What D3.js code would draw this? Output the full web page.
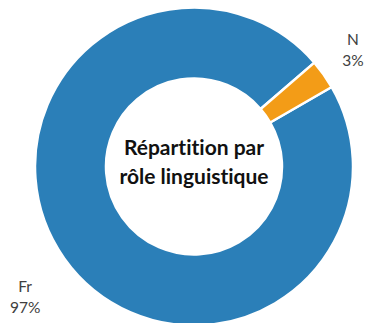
<!DOCTYPE html>
<html>
<head>
<meta charset="utf-8">
<script src="https://cdn.jsdelivr.net/npm/d3@7"></script>
<style>
  html, body { margin: 0; padding: 0; background: #fff; }
  svg { display: block; }
  text { font-family: Lato, "Open Sans", sans-serif; font-variant-ligatures: none; }
</style>
</head>
<body>
<svg id="chart" width="367" height="323"></svg>
<script>
// Share of each linguistic role
const categories = ["Fr", "N"];
const values = [97, 3];
const labels = ["97%", "3%"];
const colors = ["#2b7fb8", "#f39c17"];
const titleLines = ["Répartition par", "rôle linguistique"];

const width = 367, height = 323;
const cx = 194, cy = 166.5;
const outerR = 159, innerR = 88, labelR = 190;
// small nudges so each label box sits clear of the ring
const labelNudge = { Fr: [-14, 20], N: [4, -6] };

const svg = d3.select("#chart");
const g = svg.append("g").attr("transform", `translate(${cx},${cy})`);

const start = 60 * Math.PI / 180;
const pie = d3.pie().sort(null).startAngle(start).endAngle(start + 2 * Math.PI);
const arcs = pie(values);

const arc = d3.arc().innerRadius(innerR).outerRadius(outerR);
const labelArc = d3.arc().innerRadius(labelR).outerRadius(labelR);

g.selectAll("path.slice")
  .data(arcs)
  .join("path")
  .attr("class", "slice")
  .attr("d", arc)
  .attr("fill", (d, i) => colors[i])
  .attr("stroke", "#fff")
  .attr("stroke-width", 2.5)
  .attr("stroke-linejoin", "round");

// Category and percentage labels outside the ring
const lab = g.selectAll("g.label")
  .data(arcs)
  .join("g")
  .attr("class", "label")
  .attr("transform", (d, i) => {
    const [x, y] = labelArc.centroid(d);
    const [nx, ny] = labelNudge[categories[i]];
    return `translate(${x + nx},${y + ny})`;
  });

lab.append("text")
  .attr("text-anchor", "middle")
  .attr("y", -5)
  .attr("font-size", 15.5)
  .attr("fill", "#404040")
  .text((d, i) => categories[i]);

lab.append("text")
  .attr("text-anchor", "middle")
  .attr("y", 16)
  .attr("font-size", 15.5)
  .attr("fill", "#404040")
  .text((d, i) => labels[i]);

// Title in the hole
g.selectAll("text.title")
  .data(titleLines)
  .join("text")
  .attr("class", "title")
  .attr("text-anchor", "middle")
  .attr("x", 0)
  .attr("y", (d, i) => -12 + i * 29)
  .attr("font-size", 21)
  .attr("font-weight", "bold")
  .attr("fill", "#111")
  .text(d => d);
</script>
</body>
</html>
